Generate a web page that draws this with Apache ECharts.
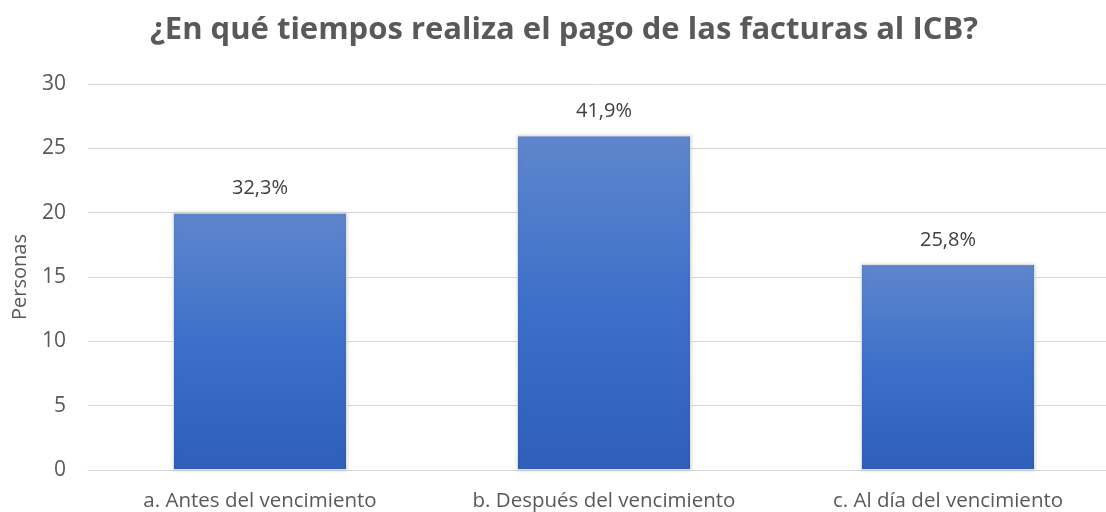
<!DOCTYPE html>
<html>
<head>
<meta charset="utf-8">
<script src="https://cdn.jsdelivr.net/npm/echarts@6/dist/echarts.min.js"></script>
<style>
  html, body { margin: 0; padding: 0; background: #fff; }
  #main { width: 1106px; height: 512px; }
</style>
</head>
<body>
<div id="main"></div>
<script>
var categories = ['a. Antes del vencimiento', 'b. Después del vencimiento', 'c. Al día del vencimiento'];
var values = [20, 26, 16];
var percentLabels = ['32,3%', '41,9%', '25,8%'];
var yTicks = [0, 5, 10, 15, 20, 25, 30];

var chart = echarts.init(document.getElementById('main'));

var barColor = new echarts.graphic.LinearGradient(0, 0, 0, 1, [
    { offset: 0, color: '#5f86cd' },
    { offset: 0.5, color: '#3d70c9' },
    { offset: 1, color: '#2f5fb8' }
]);

var option = {
    textStyle: { fontFamily: 'Open Sans' },
    title: {
        text: '¿En qué tiempos realiza el pago de las facturas al ICB?',
        left: 145,
        top: 10,
        textStyle: { fontSize: 31, fontWeight: 'bold', color: '#595959', fontFamily: 'Open Sans' }
    },
    grid: { left: 88, width: 1032, top: 84, bottom: 42, outerBoundsMode: 'none', containLabel: false },
    xAxis: {
        type: 'category',
        data: categories,
        axisLine: { show: true, lineStyle: { color: '#d9d9d9', width: 1 } },
        axisTick: { show: false },
        axisLabel: { fontSize: 20.5, color: '#595959', margin: 21, interval: 0 }
    },
    yAxis: {
        type: 'value',
        min: yTicks[0],
        max: yTicks[yTicks.length - 1],
        interval: 5,
        name: 'Personas',
        nameLocation: 'middle',
        nameGap: 58,
        nameTextStyle: { fontSize: 20, color: '#595959' },
        axisLine: { show: false },
        axisTick: { show: false },
        axisLabel: { fontSize: 21, color: '#595959', margin: 22 },
        splitLine: { lineStyle: { color: '#d9d9d9', width: 1 } }
    },
    series: [{
        type: 'bar',
        data: values,
        barWidth: 174,
        itemStyle: {
            color: barColor,
            borderColor: '#e0e0e0',
            borderWidth: 1,
            shadowColor: 'rgba(0,0,0,0.15)',
            shadowBlur: 4
        },
        label: {
            show: true,
            position: 'top',
            distance: 14,
            fontSize: 20,
            color: '#404040',
            formatter: function (p) { return percentLabels[p.dataIndex]; }
        }
    }]
};

chart.setOption(option);
</script>
</body>
</html>
